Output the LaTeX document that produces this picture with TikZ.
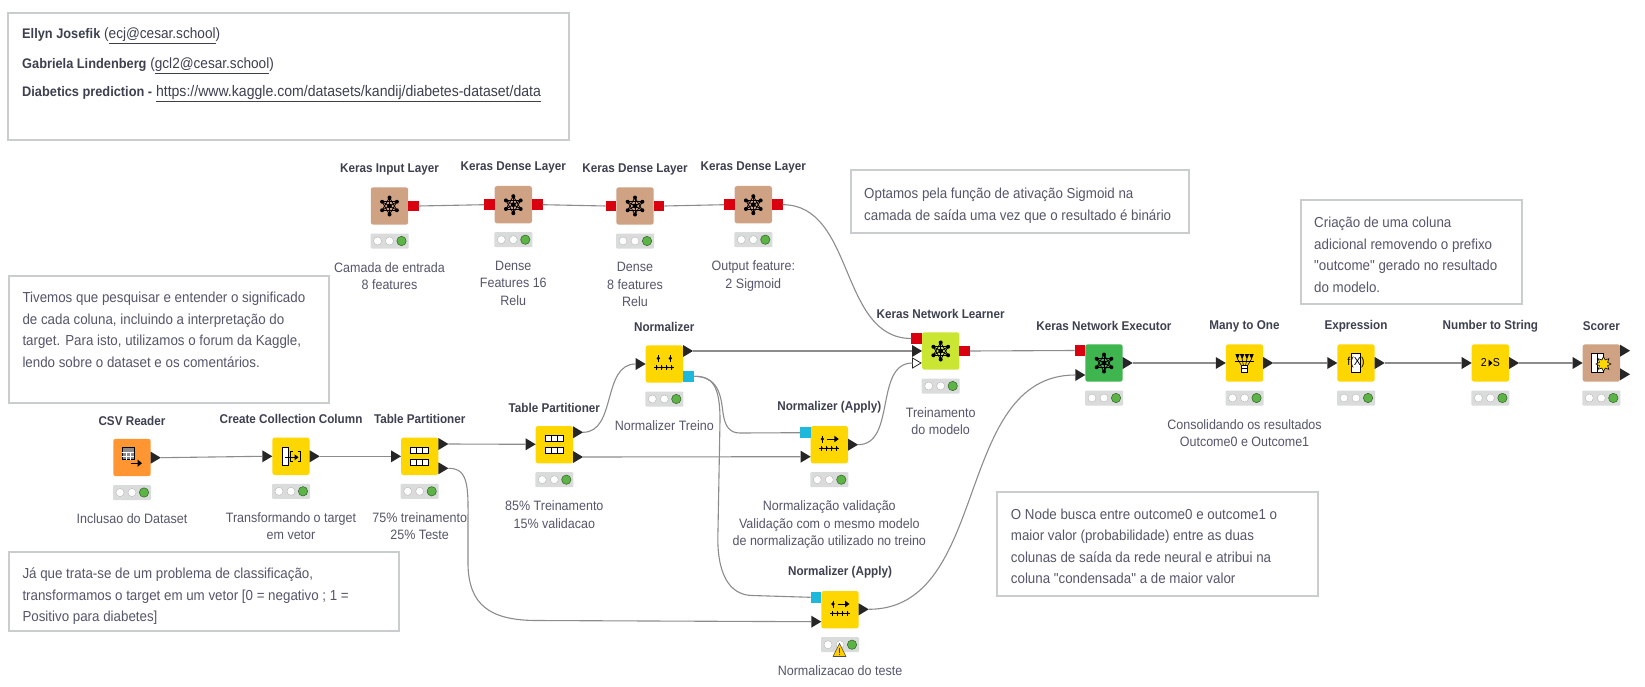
\documentclass[tikz,border=0pt]{standalone}
\usepackage{fontspec}
\setmainfont[FakeStretch=0.92,Ligatures=TeXOff]{Liberation Sans}
\usetikzlibrary{shapes.geometric}
\definecolor{kbrown}{HTML}{CFA283}
\definecolor{kyellow}{HTML}{FFD700}
\definecolor{korange}{HTML}{FF9632}
\definecolor{klime}{HTML}{CBE533}
\definecolor{kgreen}{HTML}{3EB54E}
\definecolor{kred}{HTML}{D9000F}
\definecolor{kblue}{HTML}{1DB8DC}
\definecolor{kwire}{HTML}{8C8C8C}
\definecolor{ktext}{HTML}{55566A}
\definecolor{ktitle}{HTML}{3E4050}
\definecolor{kbox}{HTML}{C9CDCD}
\definecolor{kstat}{HTML}{DADCDC}
\definecolor{klight}{HTML}{5CB346}
\newcommand{\hb}[1]{{\fontsize{13.9}{15}\selectfont\bfseries #1}}
\newcommand{\qt}{\symbol{34}}
\tikzset{
  sq/.style={minimum size=37.4pt,inner sep=0pt,rounded corners=2.5pt,outer sep=0pt},
  stat/.style={fill=kstat,minimum width=38pt,minimum height=15pt,inner sep=0pt,rounded corners=1pt},
  ttl/.style={font=\fontsize{12.7}{14}\selectfont\bfseries,text=ktitle,inner sep=0pt},
  lbl/.style={font=\fontsize{13.6}{17.5}\selectfont,text=ktext,align=center,inner sep=0pt,anchor=north},
  pout/.style={isosceles triangle,isosceles triangle apex angle=60,isosceles triangle stretches,minimum width=12pt,minimum height=10pt,inner sep=0pt,outer sep=0pt,fill=black!85,anchor=lower side},
  popen/.style={pout,fill=white,draw=black!85,line width=.8pt,minimum width=10pt,minimum height=8.5pt},
  pred/.style={fill=kred,minimum size=10.6pt,inner sep=0pt,outer sep=0pt},
  pblue/.style={fill=kblue,minimum size=10.6pt,inner sep=0pt,outer sep=0pt},
  wire/.style={draw=kwire,line width=1.1pt},
  notebox/.style={draw=kbox,line width=2pt,fill=white,inner sep=0pt,outer sep=0pt},
  note/.style={font=\fontsize{14.5}{21.5}\selectfont,text=ktext,align=left,inner sep=0pt,anchor=north west},
  head/.style={font=\fontsize{14.8}{15}\selectfont,text=ktitle,inner sep=0pt,anchor=west},
}
\newcommand{\knode}[6]{%
  \node[sq,fill=#4] (#1) at (#2,#3) {};
  \node[ttl] (#1-t) at (#2,#3-37) {#5};
  \node[stat] (#1-s) at (#2,#3+35) {};
  \fill[white,draw=kstat!70!black,line width=.2pt] (#2-12,#3+35) circle (4);
  \fill[white,draw=kstat!70!black,line width=.2pt] (#2,#3+35) circle (4);
  \fill[klight,draw=black!45!klight,line width=.5pt] (#2+12,#3+35) circle (4.7);
  \node[lbl] (#1-l) at (#2,#3+56) {#6};
}
\newcommand{\ikeras}[1]{%
  \begin{scope}[shift={(#1.center)},line width=.8pt,black]
    \foreach \a in {30,90,...,330}{
      \draw (0,0) -- (\a:8.5);
      \draw (\a:8.5) -- (\a+120:8.5);
      \fill (\a:8.5) circle (2);
    }
    \fill (0,0) circle (2.4);
  \end{scope}}
\newcommand{\itable}[1]{%
  \begin{scope}[shift={(#1.center)},line width=1pt,black]
    \foreach \r in {-5.8,5.8}{
      \draw[fill=white] (-9,\r-3) rectangle (9,\r+3);
      \draw (-3,\r-3) -- (-3,\r+3) (3,\r-3) -- (3,\r+3);
    }
  \end{scope}}
\newcommand{\inormbase}[1]{%
  \begin{scope}[shift={(#1.center)},line width=.8pt,black]
    \draw (-10,3.5) -- (10,3.5);
    \foreach \x in {-7.5,-2.5,2.5,7.5} \draw (\x,.8) -- (\x,6.2);
    \fill (-2.5,3.5) circle (1.2) (2.5,3.5) circle (1.2) (-7.5,3.5) circle (1.2) (7.5,3.5) circle (1.2);
  \end{scope}}
\newcommand{\inorm}[1]{\inormbase{#1}%
  \begin{scope}[shift={(#1.center)},line width=.8pt,black]
    \foreach \x in {-6,6}{\fill (\x,-5.7) circle (1.8); \draw (\x,-9) -- (\x,-2);}
  \end{scope}}
\newcommand{\iapply}[1]{\inormbase{#1}%
  \begin{scope}[shift={(#1.center)},line width=.9pt,black]
    \fill (-7,-5.7) circle (1.8); \draw (-7,-9) -- (-7,-2);
    \draw (-2.5,-5.7) -- (6,-5.7);
    \fill (9.5,-5.7) -- (5,-9) -- (5,-2.4) -- cycle;
  \end{scope}}
\begin{document}
\begin{tikzpicture}[x=1pt,y=-1pt]
\useasboundingbox (0,0) rectangle (1645,687);
\fill[white] (0,0) rectangle (1645,687);
% notes
\node[notebox,minimum width=561pt,minimum height=127pt] (n1) at (288.7,76.3) {};
\node[head] (n1a) at (22,36) {\hb{Ellyn Josefik} (\underline{ecj@cesar.school})};
\node[head] (n1b) at (22,66) {\hb{Gabriela Lindenberg} (\underline{gcl2@cesar.school})};
\node[head] (n1c) at (22,93.3) {\hb{Diabetics prediction -} {\fontsize{15.3}{15}\selectfont\underline{https://www.kaggle.com/datasets/kandij/diabetes-dataset/data}}};
\node[notebox,minimum width=320pt,minimum height=127pt] (n2) at (169,339.5) {};
\node[note] (n2t) at (22.3,292) {Tivemos que pesquisar e entender o significado\\de cada coluna, incluindo a interpretação do\\target. Para isto, utilizamos o forum da Kaggle,\\lendo sobre o dataset e os comentários.};
\node[notebox,minimum width=390pt,minimum height=79pt] (n3) at (204,591.3) {};
\node[note] (n3t) at (22.3,568) {Já que trata-se de um problema de classificação,\\transformamos o target em um vetor [0 = negativo ; 1 =\\Positivo para diabetes]};
\node[notebox,minimum width=338.4pt,minimum height=63pt] (n4) at (1019.8,201.5) {};
\node[note] (n4t) at (864,188) {Optamos pela função de ativação Sigmoid na\\camada de saída uma vez que o resultado é binário};
\node[notebox,minimum width=221pt,minimum height=104pt] (n5) at (1411.5,252) {};
\node[note] (n5t) at (1314,217) {Criação de uma coluna\\adicional removendo o prefixo\\\qt outcome\qt{} gerado no resultado\\do modelo.};
\node[notebox,minimum width=321pt,minimum height=104pt] (n6) at (1157.5,544) {};
\node[note] (n6t) at (1010.7,508.5) {O Node busca entre outcome0 e outcome1 o\\maior valor (probabilidade) entre as duas\\colunas de saída da rede neural e atribui na\\coluna \qt condensada\qt{} a de maior valor};
% nodes
\knode{ki}{389.5}{206}{kbrown}{Keras Input Layer}{Camada de entrada\\8 features}
\knode{kda}{513.3}{204.7}{kbrown}{Keras Dense Layer}{Dense\\Features 16\\Relu}
\knode{kdb}{635}{206}{kbrown}{Keras Dense Layer}{Dense\\8 features\\Relu}
\knode{kdc}{753.3}{204.7}{kbrown}{Keras Dense Layer}{Output feature:\\2 Sigmoid}
\knode{csv}{132}{457.5}{korange}{CSV Reader}{Inclusao do Dataset}
\knode{cc}{291}{456.3}{kyellow}{Create Collection Column}{Transformando o target\\em vetor}
\knode{tpa}{419.7}{456.3}{kyellow}{Table Partitioner}{75\% treinamento\\25\% Teste}
\knode{tpb}{554.3}{444.7}{kyellow}{Table Partitioner}{85\% Treinamento\\15\% validacao}
\knode{nm}{664.3}{364}{kyellow}{Normalizer}{Normalizer Treino}
\knode{naa}{829.3}{444.7}{kyellow}{Normalizer (Apply)}{Normalização validação\\Validação com o mesmo modelo\\de normalização utilizado no treino}
\knode{nab}{840}{609.7}{kyellow}{Normalizer (Apply)}{Normalizacao do teste}
\knode{kl}{940.7}{351}{klime}{Keras Network Learner}{Treinamento\\do modelo}
\knode{ke}{1104}{363}{kgreen}{Keras Network Executor}{}
\knode{mo}{1244.5}{363}{kyellow}{Many to One}{Consolidando os resultados\\Outcome0 e Outcome1}
\knode{ex}{1356}{363}{kyellow}{Expression}{}
\knode{ns}{1490.4}{363}{kyellow}{Number to String}{}
\knode{sc}{1601.3}{363}{kbrown}{Scorer}{}
% icons
\ikeras{ki}\ikeras{kda}\ikeras{kdb}\ikeras{kdc}\ikeras{kl}\ikeras{ke}
\itable{tpa}\itable{tpb}
\inorm{nm}\iapply{naa}\iapply{nab}
\begin{scope}[shift={(csv.center)},black]
  \draw[fill=black!45,line width=.8pt] (-9.7,-9.7) rectangle (2.3,2.3);
  \draw[white,line width=.5pt] (-9.7,-5.5) -- (2.3,-5.5) (-9.7,-1.5) -- (2.3,-1.5) (-5.7,-5.5) -- (-5.7,2.3) (-1.7,-5.5) -- (-1.7,2.3);
  \draw[line width=1.4pt] (-1.3,5.7) -- (7,5.7);
  \fill (10,5.7) -- (5.5,2) -- (5.5,9.4) -- cycle;
\end{scope}
\begin{scope}[shift={(cc.center)},black]
  \draw[fill=white,line width=.9pt] (-8.3,-8.7) rectangle (-2.7,9.3);
  \draw[line width=.9pt] (1.5,-5) -- (-.5,-5) -- (-.5,5) -- (1.5,5) (7,-5) -- (9,-5) -- (9,5) -- (7,5);
  \draw[line width=1.1pt] (-6,1) -- (5,1);
  \fill (7.5,1) -- (3.5,-2) -- (3.5,4) -- cycle;
\end{scope}
\begin{scope}[shift={(mo.center)},black]
  \foreach \x in {-7,-2.4,2.4,7}{\fill (\x-2.2,-9) -- (\x+2.2,-9) -- (\x,-3.5) -- cycle; \draw[line width=.6pt] (\x,-4) -- (\x*.4,3);}
  \draw[line width=.7pt] (-9.5,-1.8) -- (9.5,-1.8);
  \draw[fill=white,line width=.9pt] (-3.2,2.5) rectangle (3.2,9);
  \draw[line width=.9pt] (-3.2,5) -- (3.2,5);
\end{scope}
\fill[white,draw=black,line width=.6pt] (1351,353) rectangle (1360,372);
\node[font=\fontsize{11.5}{12}\selectfont,black,inner sep=0pt] (ex-i) at (ex.center) {f(X)};
\node[font=\fontsize{11.5}{12}\selectfont,black,inner sep=0pt] (ns-i) at (ns.center) {2\hspace{6pt}S};
\fill[black] (1492.5,363) -- (1488.5,359.5) -- (1488.5,366.5) -- cycle;
\begin{scope}[shift={(sc.center)},black]
  \draw[fill=white,line width=1pt] (-9.7,-9.7) rectangle (2,9);
  \draw[line width=.8pt] (-4,-9.7) -- (-4,9);
\end{scope}
\node[star,star points=8,star point ratio=1.7,fill=kyellow,draw=black,line width=.6pt,minimum size=15pt,inner sep=0pt] (sc-i) at (1603.5,364) {};
% warning
\draw[fill=kyellow!90!orange,draw=black!70,line width=.6pt,line join=round] (833,656.5) -- (846,656.5) -- (839.5,643.5) -- cycle;
\draw[black!80,line width=1pt] (839.5,648) -- (839.5,652.5) (839.5,653.8) -- (839.5,655.2);
% ports
\node[pred] (ki-o) at (413.3,206) {};
\node[pred] (kda-i) at (489.4,204.7) {};
\node[pred] (kda-o) at (537.3,204.7) {};
\node[pred] (kdb-i) at (611,206) {};
\node[pred] (kdb-o) at (659,206) {};
\node[pred] (kdc-i) at (729.4,204.7) {};
\node[pred] (kdc-o) at (777.3,204.7) {};
\node[pred] (kl-r) at (916.7,338.5) {};
\node[pred] (kl-o) at (964.7,351) {};
\node[pred] (ke-r) at (1080,350.5) {};
\node[pblue] (nm-b) at (688.3,376.3) {};
\node[pblue] (naa-b) at (805.3,432.7) {};
\node[pblue] (nab-b) at (816,597.3) {};
\node[pout] (csv-o) at (150.7,457.7) {};
\node[pout] (cc-i) at (262.3,456.3) {};
\node[pout] (cc-o) at (309.7,456.3) {};
\node[pout] (tpa-i) at (391,456.3) {};
\node[pout] (tpa-a) at (438.4,444) {};
\node[pout] (tpa-b) at (438.4,468.3) {};
\node[pout] (tpb-i) at (525.6,444.3) {};
\node[pout] (tpb-a) at (573,432.3) {};
\node[pout] (tpb-b) at (573,457) {};
\node[pout] (nm-i) at (635.6,364) {};
\node[pout] (nm-o) at (683,351) {};
\node[pout] (naa-i) at (800.6,456.7) {};
\node[pout] (naa-o) at (848,444.7) {};
\node[pout] (nab-i) at (811.3,621.7) {};
\node[pout] (nab-o) at (858.7,609.3) {};
\node[pout] (kl-i) at (912,351) {};
\node[popen] (kl-j) at (912.5,363) {};
\node[pout] (ke-i) at (1075.3,375) {};
\node[pout] (ke-o) at (1122.7,363) {};
\node[pout] (mo-i) at (1215.8,363) {};
\node[pout] (mo-o) at (1263.2,363) {};
\node[pout] (ex-j) at (1327.3,363) {};
\node[pout] (ex-o) at (1374.7,363) {};
\node[pout] (ns-i2) at (1461.7,363) {};
\node[pout] (ns-o) at (1509.1,363) {};
\node[pout] (sc-i2) at (1572.6,363) {};
\node[pout] (sc-a) at (1620,350.7) {};
\node[pout] (sc-b) at (1620,374.3) {};
% connectors
\draw[wire] (ki-o.east) -- (kda-i.west);
\draw[wire] (kda-o.east) -- (kdb-i.west);
\draw[wire] (kdb-o.east) -- (kdc-i.west);
\draw[wire] (kdc-o.east) to[out=0,in=180] (kl-r.west);
\draw[wire] (csv-o.apex) -- (cc-i.lower side);
\draw[wire] (cc-o.apex) -- (tpa-i.lower side);
\draw[wire] (tpa-a.apex) -- (tpb-i.lower side);
\draw[wire] (tpa-b.apex) .. controls (470,468) and (468,490) .. (468,527) -- (468,565) .. controls (469,605) and (490,620) .. (535,620.5) -- (nab-i.lower side);
\draw[wire] (tpb-a.apex) to[out=0,in=180] (nm-i.lower side);
\draw[wire] (tpb-b.apex) -- (naa-i.lower side);
\draw[wire] (nm-o.apex) -- (kl-i.lower side);
\draw[wire] (nm-b.east) .. controls (718,376) and (721,395) .. (723,413) .. controls (725,427) and (730,433) .. (740,433) -- (naa-b.west);
\draw[wire] (nm-b.east) .. controls (712,376) and (720,385) .. (720,420) -- (718,530) .. controls (716,575) and (730,595) .. (752,595.5) -- (nab-b.west);
\draw[wire] (naa-o.apex) to[out=0,in=180] (kl-j.lower side);
\draw[wire] (nab-o.apex) to[out=0,in=180] (ke-i.lower side);
\draw[wire] (kl-o.east) -- (ke-r.west);
\draw[wire] (ke-o.apex) -- (mo-i.lower side);
\draw[wire] (mo-o.apex) -- (ex-j.lower side);
\draw[wire] (ex-o.apex) -- (ns-i2.lower side);
\draw[wire] (ns-o.apex) -- (sc-i2.lower side);
\end{tikzpicture}
\end{document}
